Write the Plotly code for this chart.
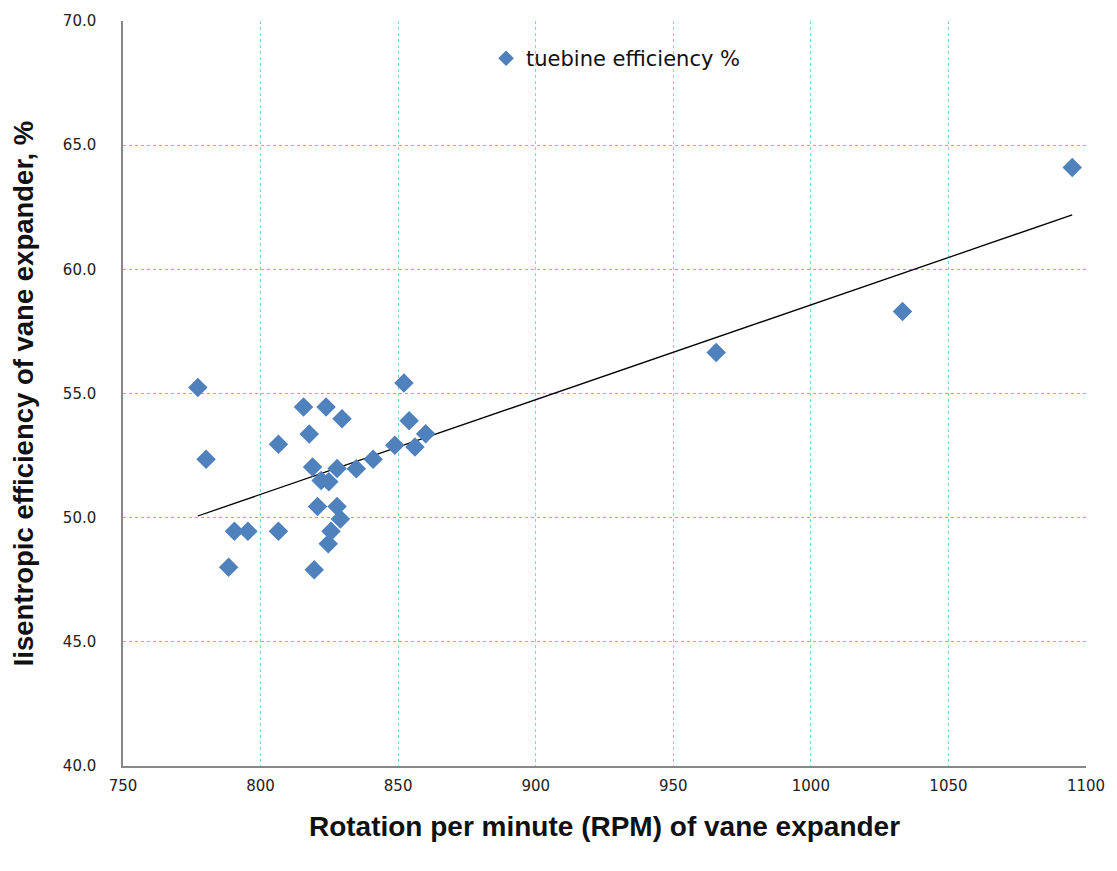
import numpy as np
import plotly.graph_objects as go

rpm = [777.2, 780.2, 790.5, 795.4, 788.4, 806.5, 806.5, 815.6, 823.8, 829.6,
       817.7, 818.9, 820.7, 827.8, 829.0, 825.6, 824.6, 819.5, 822.0, 824.8,
       827.8, 834.8, 840.9, 848.8, 856.1, 860.0, 854.0, 852.1, 965.6, 1033.3, 1095.0]
eff = [55.24, 52.35, 49.45, 49.45, 48.0, 49.45, 52.96, 54.46, 54.46, 53.98,
       53.37, 52.04, 50.45, 50.45, 49.95, 49.45, 48.95, 47.9, 51.5, 51.45,
       51.98, 51.97, 52.35, 52.92, 52.85, 53.38, 53.9, 55.42, 56.65, 58.3, 64.1]

x_ticks = [750, 800, 850, 900, 950, 1000, 1050, 1100]
y_ticks = [40, 45, 50, 55, 60, 65, 70]

slope, intercept = np.polyfit(rpm, eff, 1)
tx = [min(rpm), max(rpm)]
ty = [slope * v + intercept for v in tx]

grid = "#86cfe8"

fig = go.Figure()
fig.add_trace(go.Scatter(x=tx, y=ty, mode="lines", line=dict(color="black", width=1.3),
                         showlegend=False, hoverinfo="skip"))
fig.add_trace(go.Scatter(x=rpm, y=eff, mode="markers", name="tuebine efficiency %",
                         marker=dict(symbol="diamond", size=15, color="#4F81BD")))

fig.update_layout(
    width=1117, height=871,
    margin=dict(l=123, r=30, t=18, b=105),
    paper_bgcolor="white", plot_bgcolor="white",
    font=dict(family="DejaVu Sans", color="#222"),
    legend=dict(x=0.377, y=0.977, xanchor="left", yanchor="top", bgcolor="rgba(0,0,0,0)",
                font=dict(size=21, family="DejaVu Sans", color="#111"),
                itemsizing="constant"),
    xaxis=dict(range=[750, 1100], tickvals=x_ticks, ticktext=[str(v) for v in x_ticks],
               showgrid=True, gridcolor=grid, griddash="dot", gridwidth=1,
               showline=True, linecolor="#888", linewidth=1.5, zeroline=False,
               ticks="", ticklabelstandoff=5,
               tickfont=dict(size=15, family="DejaVu Sans", color="#222"),
               title=dict(text="<b>Rotation per minute (RPM) of vane expander</b>",
                          font=dict(size=28, family="Liberation Sans", color="#111"),
                          standoff=23)),
    yaxis=dict(range=[40, 70], tickvals=y_ticks, ticktext=[f"{v:.1f}" for v in y_ticks],
               showgrid=True, gridcolor="#5fc3ea", griddash="dot", gridwidth=1.3,
               showline=True, linecolor="#888", linewidth=1.5, zeroline=False,
               ticks="", ticklabelstandoff=22,
               tickfont=dict(size=15, family="DejaVu Sans", color="#222"),
               title=dict(text="<b>Iisentropic efficiency of vane expander, %</b>",
                          font=dict(size=27.5, family="Liberation Sans", color="#111"),
                          standoff=21)),
)

fig.write_html("out.html", config={"displayModeBar": False},
               post_script="document.body.style.margin='0';document.body.style.overflow='hidden';")
